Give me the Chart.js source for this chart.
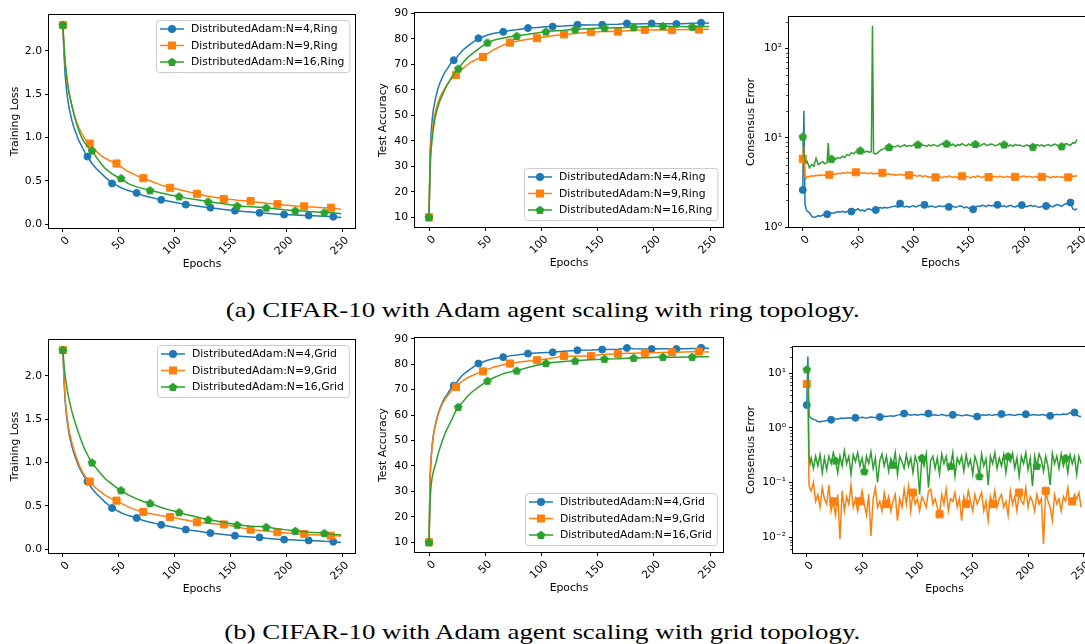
<!DOCTYPE html>
<html>
<head>
<meta charset="utf-8">
<script src="https://cdn.jsdelivr.net/npm/chart.js@4.4.1/dist/chart.umd.min.js"></script>
<style>
  html, body { margin: 0; padding: 0; background: #fff; }
  body { width: 1085px; height: 644px; overflow: hidden; position: relative; }
  canvas.panel { position: absolute; }
  .caption { position: absolute; left: 0; width: 1085px; text-align: center; font-family: 'Liberation Serif', serif; font-size: 22px; line-height: 22px; color: #000; white-space: nowrap; }
  .caption span { display: inline-block; transform-origin: center; }
</style>
</head>
<body>
<canvas id="c1" class="panel"></canvas>
<canvas id="c2" class="panel"></canvas>
<canvas id="c3" class="panel"></canvas>
<canvas id="c4" class="panel"></canvas>
<canvas id="c5" class="panel"></canvas>
<canvas id="c6" class="panel"></canvas>
<div class="caption" style="top:299px"><span>(a) CIFAR-10 with Adam agent scaling with ring topology.</span></div>
<div class="caption" style="top:621px"><span>(b) CIFAR-10 with Adam agent scaling with grid topology.</span></div>
<script>
// ---- data ----
const ringLabels = ['DistributedAdam:N=4,Ring', 'DistributedAdam:N=9,Ring', 'DistributedAdam:N=16,Ring'];
const gridLabels = ['DistributedAdam:N=4,Grid', 'DistributedAdam:N=9,Grid', 'DistributedAdam:N=16,Grid'];
const xTicks = [0, 50, 100, 150, 200, 250];
const lossTicks = [0, 0.5, 1, 1.5, 2];
const accTicks = [10, 20, 30, 40, 50, 60, 70, 80, 90];
const ringConsTicks = [1, 10, 100];
const gridConsTicks = [0.01, 0.1, 1, 10];

// epochs where loss / accuracy were sampled
const epochsSmooth = [0,1,2,3,4,5,6,8,10,12,14,16,18,20,22,24,26,30,34,38,44,48,52,58,66,72,78,88,96,104,110,120,130,132,144,154,156,168,176,182,192,198,208,216,220,234,240,242,249];

const ringLossN4 = [2.30,1.95,1.72,1.58,1.47,1.38,1.31, 1.20,1.11,1.04,0.97,0.92,0.87,0.82, 0.78,0.74,0.70, 0.64,0.59,0.54, 0.47,0.45,0.42, 0.39,0.36,0.33,0.31, 0.28,0.26,0.24,0.225, 0.21,0.19,0.19,0.17, 0.155,0.15,0.14,0.13, 0.125,0.115,0.11,0.105, 0.10,0.10,0.09,0.088, 0.085,0.075];
const ringLossN9 = [2.30,2.02,1.85,1.73,1.63,1.55,1.48, 1.37,1.27,1.19,1.12,1.07,1.02,0.98, 0.95,0.93,0.89, 0.84,0.79,0.76, 0.72,0.70,0.66, 0.61,0.56,0.53,0.50, 0.45,0.42,0.40,0.38, 0.35,0.32,0.32,0.29, 0.28,0.275,0.265,0.25, 0.24,0.23,0.22,0.21, 0.205,0.20,0.19,0.19, 0.185,0.17];
const ringLossN16 = [2.30,2.05,1.88,1.75,1.65,1.56,1.49, 1.37,1.26,1.17,1.09,1.02,0.97,0.93, 0.90,0.87,0.85, 0.77,0.70,0.64, 0.58,0.55,0.53, 0.47,0.43,0.41,0.39, 0.36,0.335,0.32,0.30, 0.28,0.26,0.255,0.235, 0.215,0.21,0.20,0.195, 0.19,0.175,0.165,0.155, 0.15,0.145,0.135,0.13, 0.13,0.12];

const ringAccN4 = [10,36,44,49,52.5,55,57, 60.5,63,65,66.8,68,69.5,70.8, 71.6,72.2,73.5, 75.5,77,78.3, 80.2,80.8,81.5, 82.2,82.7,83.2,83.5, 84.2,84.4,84.7,84.8, 85,85.3,85.5,85.4, 85.5,85.6,85.7,86, 85.8,85.9,86,85.9, 85.9,85.8,86.1,86.2, 86.3,86.1];
const ringAccN9 = [10,33,40,44.5,47.5,50,52, 55,57.3,59,60.5,62,63.2,64.3, 65.2,65.8,66.8, 68.3,69.8,71, 72.3,72.9,74.2, 75.8,77.5,78.5,79, 79.8,80.2,80.8,81.2, 81.7,82.1,82.2,82.6, 82.8,82.9,82.8,83.1, 83.2,83.5,83.4,83.5, 83.4,83.5,83.6,83.6, 83.7,83.7];
const ringAccN16 = [10,30,37,41.5,45,48,50, 53.5,56,58,60,61.8,63.3,64.8, 66,67.3,68.3, 70.5,72.5,74, 76,77.3,78.5, 79.5,80.3,80.8,81.1, 81.8,82.3,82.8,83, 83.3,83.7,83.7,84, 84.2,84.2,84.3,84.4, 84.5,84.7,84.8,85, 84.8,84.8,84.7,84.8, 84.8,84.8];

const gridLossN4 = [2.30,1.94,1.71,1.57,1.46,1.37,1.30, 1.19,1.10,1.03,0.96,0.91,0.86,0.82, 0.78,0.74,0.70, 0.64,0.59,0.54, 0.475,0.45,0.42, 0.39,0.36,0.33,0.31, 0.28,0.26,0.24,0.225, 0.21,0.19,0.185,0.17, 0.155,0.15,0.14,0.135, 0.125,0.115,0.11,0.105, 0.10,0.10,0.09,0.088, 0.085,0.075];
const gridLossN9 = [2.30,1.97,1.75,1.61,1.50,1.41,1.34, 1.23,1.14,1.06,0.99,0.93,0.88,0.84, 0.80,0.78,0.75, 0.70,0.66,0.62, 0.58,0.56,0.53, 0.49,0.45,0.43,0.41, 0.385,0.37,0.35,0.335, 0.31,0.30,0.295,0.285, 0.26,0.255,0.225,0.215, 0.21,0.195,0.19,0.18, 0.175,0.17,0.16,0.155, 0.155,0.15];
const gridLossN16 = [2.30,2.12,2.00,1.91,1.83,1.76,1.70, 1.59,1.50,1.42,1.34,1.27,1.20,1.14, 1.09,1.04,1.00, 0.93,0.87,0.81, 0.75,0.71,0.68, 0.63,0.58,0.55,0.53, 0.48,0.45,0.425,0.40, 0.37,0.34,0.335,0.31, 0.285,0.28,0.265,0.26, 0.255,0.235,0.225,0.21, 0.20,0.195,0.185,0.175, 0.17,0.165];

const gridAccN4 = [10,36,44,49,52.5,55,57, 60.5,63,65,66.8,68,69.5,70.8, 71.6,72.3,73.8, 75.8,77.2,78.5, 80.3,80.9,81.6, 82.3,82.8,83.3,83.6, 84.2,84.4,84.6,84.7, 85.1,85.4,85.5,85.6, 85.8,85.8,85.9,86.4, 86.1,86,86,86.1, 86.1,86,86.2,86.3, 86.5,86.2];
const gridAccN9 = [10,36,44,48.5,52,54.5,56.5, 60,62.5,64.5,66,67.3,68.5,69.7, 70.5,71.1,72, 73.5,74.6,75.5, 76.6,77.2,78, 78.9,79.8,80.3,80.7, 81.3,81.6,82.1,82.5, 83.2,83.2,83.3,83.3, 83.8,83.8,84.1,84.3, 84.3,84.5,84.5,84.6, 84.7,84.7,84.9,85, 84.9,84.8];
const gridAccN16 = [10,27,33,36,38,39.5,41, 44.5,47.5,50,52.5,54.5,56.3,58, 60,61.8,63.2, 65.2,67.3,69, 71,72.3,73.5, 74.8,76.3,77,77.5, 78.7,79.6,80.4,80.7, 81.1,81.4,81.5,81.8, 82,82.1,82.2,82.4, 82.5,82.6,82.7,82.9, 82.8,82.8,82.9,83, 83,83];

// consensus error, ring topology
const ringConsEpochs = [0,1,2,3,4,6,8,10,12,14,
  16,18,20,22,23,24,26,28,30,32,
  34,36,38,40,42,44,46,48,50,52,
  54,56,58,60,62,63,64,66,68,70,
  72,74,76,78,80,82,84,86,88,90,
  92,94,96,98,100,102,104,106,108,110,
  112,114,116,118,120,122,124,126,128,130,
  132,134,136,138,140,142,144,146,148,150,
  152,154,156,158,160,162,164,166,168,170,
  172,174,176,178,180,182,184,186,188,190,
  192,194,196,198,200,202,204,206,208,210,
  212,214,216,218,220,222,224,226,228,230,
  232,234,236,238,240,242,244,246,248];
const ringConsN4 = [2.6,20,1.8,1.6,1.5,1.45,1.32,1.28,1.3,1.34,
  1.32,1.36,1.38,1.39,1.4,1.42,1.44,1.43,1.46,1.48,
  1.47,1.5,1.46,1.49,1.52,1.49,1.5,1.55,1.6,1.52,
  1.56,1.5,1.58,1.6,1.55,1.57,1.58,1.55,1.62,1.65,
  1.62,1.66,1.63,1.65,1.68,1.7,1.72,1.66,1.83,1.7,
  1.68,1.72,1.66,1.7,1.74,1.68,1.72,1.75,1.71,1.77,
  1.74,1.68,1.72,1.7,1.66,1.7,1.73,1.69,1.72,1.68,
  1.68,1.72,1.7,1.66,1.69,1.73,1.7,1.64,1.68,1.62,
  1.65,1.58,1.66,1.72,1.7,1.75,1.73,1.69,1.76,1.72,
  1.74,1.72,1.77,1.73,1.7,1.74,1.68,1.72,1.75,1.7,
  1.68,1.73,1.71,1.76,1.72,1.69,1.72,1.75,1.7,1.73,
  1.68,1.66,1.7,1.68,1.72,1.76,1.72,1.68,1.74,1.78,
  1.75,1.7,1.78,1.83,1.8,1.88,1.6,1.55,1.6];
const ringConsN9 = [5.8,8.2,3.6,3.5,3.7,3.65,3.75,3.7,3.8,3.75,
  3.85,3.78,3.82,3.8,3.85,3.85,3.9,3.95,3.9,4.0,
  3.95,4.05,4.0,4.1,4.05,4.0,4.1,4.1,4.15,4.05,
  4.0,4.05,3.95,4.0,4.05,4.0,3.9,4.0,3.95,4.05,
  4.05,4.0,3.9,3.95,3.85,3.9,3.8,3.85,3.9,3.8,
  3.85,3.75,3.8,3.72,3.85,3.75,3.7,3.8,3.65,3.75,
  3.7,3.6,3.65,3.62,3.6,3.7,3.65,3.55,3.7,3.6,
  3.75,3.65,3.6,3.7,3.55,3.65,3.7,3.6,3.68,3.62,
  3.55,3.7,3.6,3.75,3.65,3.58,3.7,3.6,3.62,3.55,
  3.65,3.7,3.6,3.72,3.65,3.58,3.7,3.62,3.68,3.6,
  3.65,3.72,3.6,3.68,3.75,3.6,3.7,3.65,3.58,3.7,
  3.62,3.7,3.65,3.6,3.72,3.65,3.55,3.7,3.62,3.68,
  3.6,3.65,3.58,3.7,3.6,3.65,3.72,3.7,3.75];
const ringConsN16 = [10.3,6.5,5.5,5.2,5.4,4.6,5.0,4.8,5.9,5.0,
  5.2,5.4,5.1,5.3,8.7,5.4,5.8,5.6,5.8,6.0,
  5.9,6.2,6.0,6.5,6.3,6.8,6.6,7.0,6.8,7.2,
  7.0,6.9,7.1,6.9,7.0,180,6.7,6.6,6.8,7.2,
  7.4,7.6,7.5,7.85,7.7,7.9,8.0,8.2,7.9,8.1,
  8.3,8.0,8.2,8.1,8.3,8.2,8.4,8.1,8.3,8.2,
  8.0,8.3,8.1,8.4,8.2,8.0,8.3,8.6,8.2,8.6,
  8.8,8.2,8.5,8.0,8.4,8.2,8.6,8.3,8.1,8.5,
  8.2,8.6,8.5,8.3,8.1,8.4,8.6,8.2,8.3,8.5,
  8.4,8.1,8.3,8.6,8.2,8.4,8.3,8.1,8.3,8.0,
  8.4,8.2,8.3,8.1,8.0,8.3,8.2,8.1,7.9,8.2,
  8.4,8.1,8.3,8.0,8.2,8.4,8.1,8.3,8.5,8.2,
  7.9,8.0,8.3,8.6,8.4,8.2,8.8,8.7,9.6];

// consensus error, grid topology
const gridConsEpochs = [0,1,2,3,4,6,8,10,12,14,
  16,18,20,22,24,26,28,30,32,34,
  36,38,40,42,44,46,48,50,52,54,
  56,58,60,62,64,66,68,70,72,74,
  76,78,80,82,84,86,88,90,92,94,
  96,98,100,102,104,106,108,110,112,114,
  116,118,120,122,124,126,128,130,132,134,
  136,138,140,142,144,146,148,150,152,154,
  156,158,160,162,164,166,168,170,172,174,
  176,178,180,182,184,186,188,190,192,194,
  196,198,200,202,204,206,208,210,212,214,
  216,218,220,222,224,226,228,230,232,234,
  236,238,240,242,244,246,248];
const gridConsN4 = [2.6,20,1.7,1.55,1.5,1.42,1.38,1.3,1.28,1.32,
  1.33,1.36,1.38,1.4,1.42,1.45,1.44,1.47,1.5,1.48,
  1.5,1.52,1.49,1.51,1.52,1.5,1.53,1.55,1.52,1.5,
  1.54,1.57,1.55,1.53,1.56,1.57,1.6,1.62,1.6,1.63,
  1.65,1.62,1.66,1.7,1.72,1.75,1.82,1.78,1.74,1.7,
  1.72,1.75,1.7,1.73,1.76,1.72,1.78,1.82,1.75,1.7,
  1.72,1.68,1.7,1.74,1.71,1.66,1.68,1.7,1.72,1.69,
  1.73,1.7,1.66,1.68,1.72,1.69,1.65,1.62,1.58,1.6,
  1.65,1.7,1.72,1.68,1.74,1.71,1.69,1.73,1.72,1.76,
  1.78,1.74,1.7,1.72,1.75,1.71,1.68,1.72,1.76,1.73,
  1.75,1.77,1.73,1.7,1.72,1.74,1.71,1.69,1.72,1.74,
  1.68,1.66,1.65,1.7,1.73,1.76,1.72,1.74,1.78,1.75,
  1.8,1.88,1.84,1.9,1.72,1.62,1.6];
const gridConsN9 = [6.3,6.5,0.09,0.075,0.07,0.1,0.045,0.06,0.035,0.08,
  0.05,0.04,0.09,0.03,0.045,0.025,0.06,0.009,0.07,0.03,
  0.055,0.04,0.09,0.035,0.05,0.03,0.045,0.07,0.04,0.025,
  0.06,0.0105,0.05,0.08,0.035,0.045,0.03,0.065,0.04,0.055,
  0.03,0.045,0.06,0.02,0.05,0.035,0.075,0.04,0.085,0.03,
  0.065,0.04,0.05,0.03,0.055,0.045,0.035,0.07,0.075,0.04,
  0.05,0.035,0.026,0.06,0.04,0.075,0.03,0.05,0.045,0.065,
  0.035,0.05,0.02,0.055,0.04,0.07,0.045,0.03,0.06,0.04,
  0.05,0.065,0.03,0.045,0.02,0.055,0.04,0.07,0.035,0.05,
  0.06,0.035,0.045,0.025,0.07,0.04,0.055,0.03,0.065,0.045,
  0.04,0.08,0.035,0.055,0.045,0.03,0.06,0.04,0.05,0.0075,
  0.07,0.045,0.035,0.02,0.06,0.04,0.05,0.03,0.055,0.045,
  0.08,0.04,0.045,0.06,0.05,0.065,0.035];
const gridConsN16 = [11.7,11,0.3,0.22,0.28,0.18,0.3,0.2,0.32,0.15,
  0.28,0.17,0.3,0.22,0.35,0.25,0.15,0.3,0.2,0.38,
  0.22,0.3,0.14,0.32,0.24,0.35,0.2,0.28,0.16,0.3,
  0.22,0.36,0.18,0.28,0.1,0.25,0.33,0.2,0.3,0.16,
  0.27,0.21,0.35,0.14,0.3,0.24,0.18,0.32,0.2,0.28,
  0.15,0.3,0.22,0.06,0.28,0.2,0.33,0.08,0.25,0.3,
  0.18,0.28,0.14,0.33,0.22,0.3,0.17,0.2,0.35,0.13,
  0.28,0.22,0.3,0.16,0.32,0.2,0.26,0.14,0.3,0.22,
  0.13,0.33,0.2,0.27,0.09,0.3,0.22,0.35,0.18,0.28,
  0.2,0.32,0.15,0.3,0.24,0.34,0.18,0.28,0.13,0.3,
  0.22,0.35,0.17,0.28,0.085,0.3,0.2,0.33,0.26,0.16,
  0.3,0.2,0.09,0.34,0.22,0.3,0.18,0.33,0.2,0.28,
  0.15,0.32,0.22,0.3,0.14,0.3,0.22];

// ---- styling ----
const colors = ['#1f77b4', '#ff7f0e', '#2ca02c'];
const markerEvery = [22, 24, 26];
const markerRadius = [3.5, 5, 4];
const fontSize = 10.8;

Chart.defaults.font.family = "'DejaVu Sans', sans-serif";
Chart.defaults.font.size = fontSize;
Chart.defaults.color = '#000';

function pentagonImage(color, r) {
  const c = document.createElement('canvas');
  const s = Math.ceil(r * 2 + 2);
  c.width = s; c.height = s;
  const g = c.getContext('2d');
  g.beginPath();
  for (let i = 0; i < 5; i++) {
    const a = -Math.PI / 2 + i * 2 * Math.PI / 5;
    const px = s / 2 + r * Math.cos(a), py = s / 2 + r * Math.sin(a) + 0.4;
    if (i) g.lineTo(px, py); else g.moveTo(px, py);
  }
  g.closePath();
  g.fillStyle = color;
  g.fill();
  return c;
}
const pentagon = pentagonImage(colors[2], 4.6);
const pointStyles = ['circle', 'rect', pentagon];

function drawMarker(ctx, i, x, y) {
  ctx.fillStyle = colors[i];
  if (i === 0) {
    ctx.beginPath(); ctx.arc(x, y, 4, 0, Math.PI * 2); ctx.fill();
  } else if (i === 1) {
    ctx.fillRect(x - 4, y - 4, 8, 8);
  } else {
    ctx.drawImage(pentagon, x - pentagon.width / 2, y - pentagon.height / 2);
  }
}

function series(epochs, values, i, labels) {
  return {
    label: labels[i],
    data: epochs.map((e, k) => ({x: e, y: values[k]})),
    borderColor: colors[i],
    backgroundColor: colors[i],
    pointBackgroundColor: colors[i],
    pointBorderColor: colors[i],
    borderWidth: 1.5,
    tension: 0,
    order: 2 - i,
    pointStyle: pointStyles[i],
    pointBorderWidth: i === 2 ? 0 : 1,
    pointRadius: ctx => (ctx.raw && ctx.raw.x % markerEvery[i] === 0) ? markerRadius[i] : 0
  };
}

const sup = {'0': '\u2070', '1': '\u00b9', '2': '\u00b2', '3': '\u00b3', '-': '\u207b'};
function logLabel(v) {
  const e = String(Math.round(Math.log10(v)));
  return '10' + e.split('').map(c => sup[c]).join('');
}

// box around the plot area
const frame = {
  id: 'frame',
  afterDatasetsDraw(chart) {
    const {ctx, chartArea: a} = chart;
    ctx.save();
    ctx.strokeStyle = '#000';
    ctx.lineWidth = 1;
    ctx.strokeRect(Math.round(a.left) - 0.5, Math.round(a.top) - 0.5, Math.round(a.right - a.left) + 1, Math.round(a.bottom - a.top) + 1);
    ctx.restore();
  }
};

// minor ticks on log axes
const minorTicks = {
  id: 'minorTicks',
  afterDraw(chart) {
    const y = chart.scales.y;
    if (y.type !== 'logarithmic') return;
    const {ctx} = chart;
    const left = Math.round(chart.chartArea.left);
    ctx.save();
    ctx.strokeStyle = '#000';
    ctx.lineWidth = 0.7;
    for (let d = Math.floor(Math.log10(y.min)); d <= Math.ceil(Math.log10(y.max)); d++) {
      for (let k = 2; k < 10; k++) {
        const v = k * Math.pow(10, d);
        if (v < y.min || v > y.max) continue;
        const py = Math.round(y.getPixelForValue(v)) + 0.5;
        ctx.beginPath(); ctx.moveTo(left - 3, py); ctx.lineTo(left, py); ctx.stroke();
      }
    }
    ctx.restore();
  }
};

// matplotlib-like legend box
const mplLegend = {
  id: 'mplLegend',
  afterDraw(chart, args, opts) {
    if (!opts.loc) return;
    const {ctx, chartArea: a} = chart;
    const ds = chart.data.datasets;
    ctx.save();
    ctx.font = fontSize + "px 'DejaVu Sans'";
    const textW = Math.max(...ds.map(d => ctx.measureText(d.label).width));
    const rowH = 16.5;
    const w = 35 + textW + 5;
    const h = 9 + rowH * (ds.length - 1) + 10;
    const x0 = Math.round(a.right - 6 - w);
    const y0 = Math.round(opts.loc === 'upper right' ? a.top + 5 : a.bottom - 7 - h);
    ctx.beginPath();
    if (ctx.roundRect) ctx.roundRect(x0 + 0.5, y0 + 0.5, w, h, 3); else ctx.rect(x0 + 0.5, y0 + 0.5, w, h);
    ctx.fillStyle = 'rgba(255,255,255,0.8)';
    ctx.fill();
    ctx.strokeStyle = '#cccccc';
    ctx.lineWidth = 1;
    ctx.stroke();
    ds.forEach((d, i) => {
      const ry = y0 + 9 + rowH * i;
      ctx.strokeStyle = colors[i];
      ctx.lineWidth = 1.5;
      ctx.beginPath(); ctx.moveTo(x0 + 4, ry); ctx.lineTo(x0 + 28, ry); ctx.stroke();
      drawMarker(ctx, i, x0 + 16, ry);
      ctx.fillStyle = '#000';
      ctx.textBaseline = 'middle';
      ctx.textAlign = 'left';
      ctx.fillText(d.label, x0 + 35, ry + 0.5);
    });
    ctx.restore();
  }
};

function makeChart(id, box, yAxis, datasets, legendLoc) {
  const canvas = document.getElementById(id);
  const left = box.titleX - 8, top = box.t - 12;
  canvas.width = box.r + 12 - left;
  canvas.height = box.b + 43 - top;
  canvas.style.left = left + 'px';
  canvas.style.top = top + 'px';
  const tickGrid = {display: true, drawOnChartArea: false, drawTicks: true, tickLength: 4, tickColor: '#000', tickWidth: 1};
  return new Chart(canvas, {
    type: 'line',
    data: {datasets},
    options: {
      responsive: false,
      animation: false,
      events: [],
      layout: {padding: {top: 12, right: 12, bottom: 0, left: 0}},
      plugins: {legend: {display: false}, tooltip: {enabled: false}, mplLegend: {loc: legendLoc}},
      scales: {
        x: {
          type: 'linear', min: -12.45, max: 261.45,
          afterBuildTicks: s => { s.ticks = xTicks.map(v => ({value: v})); },
          afterFit: s => { s.height = 43; },
          grid: tickGrid,
          border: {display: false},
          ticks: {minRotation: 45, maxRotation: 45, autoSkip: false, padding: 2, labelOffset: 5, color: '#000'},
          title: {display: true, text: 'Epochs', color: '#000', padding: 0}
        },
        y: {
          type: yAxis.type, min: yAxis.min, max: yAxis.max,
          afterBuildTicks: s => { s.ticks = yAxis.ticks.map(v => ({value: v})); },
          afterFit: s => { s.width = box.l - left; },
          grid: tickGrid,
          border: {display: false},
          ticks: {autoSkip: false, padding: 3, color: '#000', callback: yAxis.format},
          title: {display: true, text: yAxis.title, color: '#000', padding: {top: 1.5, bottom: 0}}
        }
      }
    },
    plugins: [frame, minorTicks, mplLegend]
  });
}

const lossAxis = {type: 'linear', min: -0.045, max: 2.415, ticks: lossTicks, title: 'Training Loss', format: v => v.toFixed(1)};
const accAxis = {type: 'linear', min: 6.2, max: 90.1, ticks: accTicks, title: 'Test Accuracy', format: v => String(v)};

makeChart('c1', {l: 49, t: 15, r: 355, b: 228, titleX: 15}, lossAxis,
  [series(epochsSmooth, ringLossN4, 0, ringLabels), series(epochsSmooth, ringLossN9, 1, ringLabels), series(epochsSmooth, ringLossN16, 2, ringLabels)], 'upper right');
makeChart('c2', {l: 415, t: 13, r: 723, b: 227, titleX: 383}, accAxis,
  [series(epochsSmooth, ringAccN4, 0, ringLabels), series(epochsSmooth, ringAccN9, 1, ringLabels), series(epochsSmooth, ringAccN16, 2, ringLabels)], 'lower right');
makeChart('c3', {l: 789, t: 17, r: 1092, b: 227, titleX: 751},
  {type: 'logarithmic', min: 1, max: 225, ticks: ringConsTicks, title: 'Consensus Error', format: logLabel},
  [series(ringConsEpochs, ringConsN4, 0, ringLabels), series(ringConsEpochs, ringConsN9, 1, ringLabels), series(ringConsEpochs, ringConsN16, 2, ringLabels)], null);
makeChart('c4', {l: 49, t: 340, r: 355, b: 553, titleX: 15}, lossAxis,
  [series(epochsSmooth, gridLossN4, 0, gridLabels), series(epochsSmooth, gridLossN9, 1, gridLabels), series(epochsSmooth, gridLossN16, 2, gridLabels)], 'upper right');
makeChart('c5', {l: 415, t: 338, r: 723, b: 552, titleX: 383}, Object.assign({}, accAxis, {min: 6.17, max: 90.33}),
  [series(epochsSmooth, gridAccN4, 0, gridLabels), series(epochsSmooth, gridAccN9, 1, gridLabels), series(epochsSmooth, gridAccN16, 2, gridLabels)], 'lower right');
makeChart('c6', {l: 793, t: 347, r: 1096, b: 553, titleX: 751},
  {type: 'logarithmic', min: 0.0051, max: 30, ticks: gridConsTicks, title: 'Consensus Error', format: logLabel},
  [series(gridConsEpochs, gridConsN4, 0, gridLabels), series(gridConsEpochs, gridConsN9, 1, gridLabels), series(gridConsEpochs, gridConsN16, 2, gridLabels)], null);

// captions: stretch the serif text to the width it has in the figure
const captionWidths = [634, 636];
document.querySelectorAll('.caption span').forEach((s, i) => {
  const w = s.getBoundingClientRect().width;
  s.style.transform = 'scaleX(' + (captionWidths[i] / w) + ')';
});
</script>
</body>
</html>
